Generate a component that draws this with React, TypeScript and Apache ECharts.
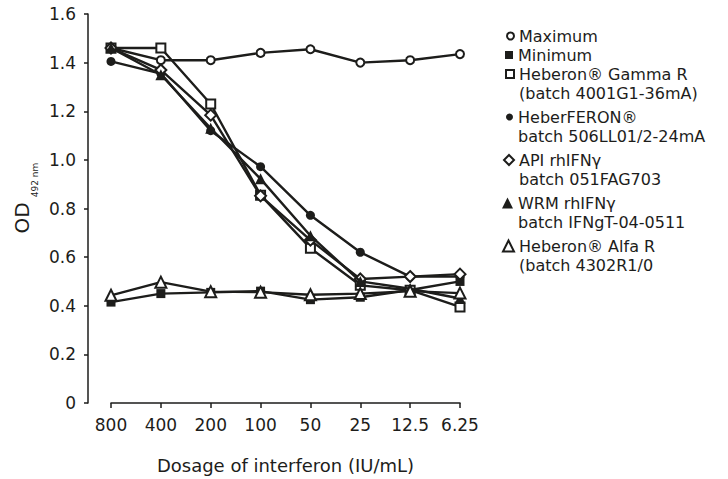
import React, { useEffect, useRef } from "react";
import * as echarts from "echarts";

const categories = ["800", "400", "200", "100", "50", "25", "12.5", "6.25"];
const yTicks = [0, 0.2, 0.4, 0.6, 0.8, 1.0, 1.2, 1.4, 1.6];

const maximum = [1.46, 1.41, 1.41, 1.44, 1.455, 1.4, 1.41, 1.435];
const minimum = [0.415, 0.45, 0.455, 0.46, 0.425, 0.435, 0.465, 0.5];
const gammaR = [1.46, 1.46, 1.23, 0.855, 0.637, 0.484, 0.464, 0.395];
const heberferon = [1.405, 1.355, 1.12, 0.972, 0.772, 0.62, 0.52, 0.52];
const apiRhIFN = [1.46, 1.37, 1.184, 0.852, 0.67, 0.51, 0.52, 0.53];
const wrmRhIFN = [1.46, 1.35, 1.13, 0.922, 0.688, 0.5, 0.47, 0.43];
const alfaR = [0.443, 0.497, 0.458, 0.456, 0.445, 0.45, 0.46, 0.452];

const seriesNames = [
  "Maximum",
  "Minimum",
  "Heberon® Gamma R\n(batch 4001G1-36mA)",
  "HeberFERON®\nbatch 506LL01/2-24mA",
  "API rhIFNγ\nbatch 051FAG703",
  "WRM rhIFNγ\nbatch IFNgT-04-0511",
  "Heberon® Alfa R\n(batch 4302R1/0",
];
const seriesData = [maximum, minimum, gammaR, heberferon, apiRhIFN, wrmRhIFN, alfaR];
const seriesSymbols = ["emptyCircle", "rect", "emptyRect", "circle", "emptyDiamond", "triangle", "emptyTriangle"];
const symbolSizes = [8, 9, 9, 9, 11, 11, 11];
const legendIconSizes = [7, 8, 8, 7, 10, 11, 11];
const legendCenters = [36, 55, 74, 117, 160, 203, 246];

const INK = "#1d1d1b";
const FONT = "DejaVu Sans";

export default function App() {
  const ref = useRef<HTMLDivElement>(null);
  useEffect(() => {
    if (!ref.current) return;
    const chart = echarts.init(ref.current, undefined, { renderer: "svg" });
    const series = seriesNames.map((name, i) => ({
      name,
      type: "line",
      data: seriesData[i],
      symbol: seriesSymbols[i],
      symbolSize: symbolSizes[i],
      showAllSymbol: true,
      lineStyle: { color: INK, width: 2.4 },
      itemStyle: { color: INK, borderWidth: 2 },
      z: 2 + i,
    }));
    const legends = seriesNames.map((name, i) => {
      const twoLine = name.indexOf("\n") >= 0;
      const w = legendIconSizes[i];
      return {
        data: [{ name, icon: seriesSymbols[i] }],
        orient: "vertical",
        left: 513 - w,
        top: legendCenters[i] - (twoLine ? 28.5 : 9.5),
        padding: 0,
        itemWidth: w,
        itemHeight: w,
        itemGap: 0,
        selectedMode: false,
        formatter: (n: string) => (n.indexOf("\n") >= 0 ? "\u00a0\n" + n : n),
        textStyle: {
          color: INK,
          fontFamily: FONT,
          fontSize: 16,
          lineHeight: 19,
        },
      };
    });
    chart.setOption({
      animation: false,
      backgroundColor: "#ffffff",
      grid: { left: 111, right: 268, top: 14, bottom: 72, containLabel: false },
      xAxis: {
        type: "category",
        data: categories,
        boundaryGap: false,
        axisLine: { show: true, lineStyle: { color: INK, width: 1.5 } },
        axisTick: { show: true, length: 5, lineStyle: { color: INK, width: 1.5 } },
        axisLabel: { interval: 0, color: INK, fontFamily: FONT, fontSize: 17, margin: 13 },
        splitLine: { show: false },
        name: "Dosage of interferon (IU/mL)",
        nameLocation: "middle",
        nameGap: 53,
        nameTextStyle: { color: INK, fontFamily: FONT, fontSize: 18 },
      },
      yAxis: {
        type: "value",
        min: 0,
        max: 1.6,
        interval: 0.2,
        offset: 23,
        axisLine: { show: true, lineStyle: { color: INK, width: 1.5 } },
        axisTick: { show: true, length: 4, lineStyle: { color: INK, width: 1.5 } },
        axisLabel: {
          color: INK,
          fontFamily: FONT,
          fontSize: 17,
          margin: 12,
          formatter: (v: number) => {
            const t = yTicks.find((k) => Math.abs(k - v) < 1e-6);
            const val = t === undefined ? v : t;
            return val === 0 ? "0" : val.toFixed(1);
          },
        },
        splitLine: { show: false },
      },
      legend: legends,
      graphic: [
        {
          type: "text",
          x: 22,
          y: 218,
          rotation: Math.PI / 2,
          style: { text: "OD", fill: INK, font: `20px "${FONT}"`, align: "center", verticalAlign: "middle" },
        },
        {
          type: "text",
          x: 35,
          y: 180,
          rotation: Math.PI / 2,
          style: { text: "492 nm", fill: INK, font: `9px "${FONT}"`, align: "center", verticalAlign: "middle" },
        },
      ],
      series,
    });
    return () => chart.dispose();
  }, []);
  return (
    <div
      ref={ref}
      style={{ position: "fixed", left: 0, top: 0, width: 728, height: 479 }}
    />
  );
}
